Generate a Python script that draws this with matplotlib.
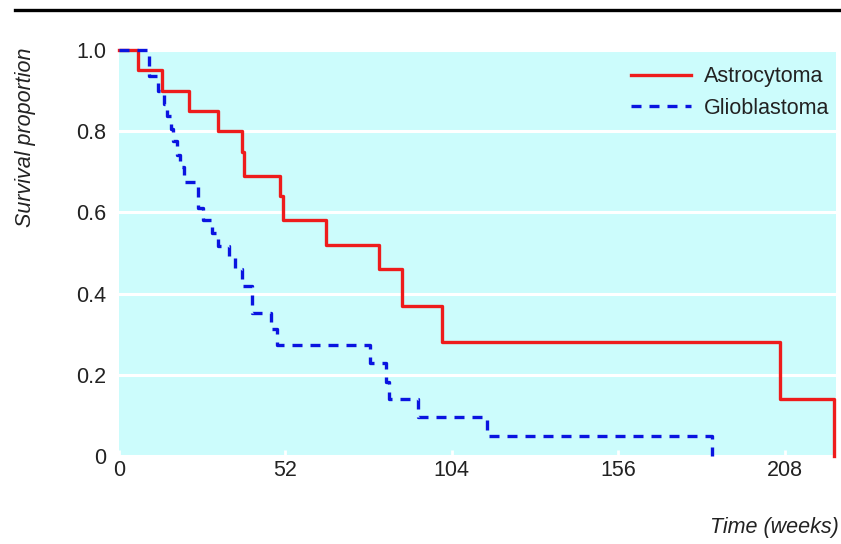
import matplotlib
matplotlib.use("Agg")
import matplotlib.pyplot as plt
from matplotlib.lines import Line2D

# Kaplan-Meier estimates, step changes (weeks, survival proportion)
astro_weeks = [0, 6.0, 13.4, 22.0, 30.8, 38.5, 39.0, 50.4, 51.1, 64.8, 81.1, 88.4, 100.8, 206.4, 223.4]
astro_surv = [1.0, 0.95, 0.90, 0.85, 0.80, 0.75, 0.69, 0.64, 0.58, 0.52, 0.46, 0.37, 0.28, 0.14, 0.0]

glio_weeks = [0, 9.5, 12.3, 14.2, 14.9, 16.3, 17.0, 18.2, 19.1, 20.3, 24.6, 26.3, 29.0, 31.0,
              34.5, 36.3, 38.3, 41.5, 47.5, 49.5, 78.4, 83.4, 84.4, 93.5, 114.9, 185.2]
glio_surv = [1.0, 0.936, 0.898, 0.867, 0.838, 0.806, 0.775, 0.742, 0.713, 0.676, 0.612, 0.581, 0.55, 0.517,
             0.491, 0.46, 0.418, 0.352, 0.312, 0.273, 0.23, 0.183, 0.14, 0.097, 0.05, 0.0]

x_ticks = [0, 52, 104, 156, 208]
y_ticks = [0, 0.2, 0.4, 0.6, 0.8, 1.0]
y_labels = ["0", "0.2", "0.4", "0.6", "0.8", "1.0"]

RED = "#ee1c1c"
BLUE = "#0a14e0"
PANEL = "#ccfcfc"
INK = "#222222"
FS = 15.5

plt.rcParams["font.family"] = ["Liberation Sans Narrow", "Liberation Sans", "DejaVu Sans"]


def main():
    fig = plt.figure(figsize=(8.41, 5.44), dpi=100)
    ax = fig.add_axes([0.1415, 0.162, 0.8525, 0.746])
    ax.set_facecolor(PANEL)

    ax.step(astro_weeks, astro_surv, where="post", color=RED, lw=2.4,
            clip_on=False, zorder=3)
    ax.step(glio_weeks, glio_surv, where="post", color=BLUE, lw=2.4,
            dashes=(3.0, 2.4), clip_on=False, zorder=4)

    ax.set_xlim(0, 224)
    ax.set_ylim(0, 1.0)
    ax.set_xticks(x_ticks)
    ax.set_yticks(y_ticks)
    ax.set_yticklabels(y_labels)
    for s in ax.spines.values():
        s.set_visible(False)
    ax.yaxis.grid(True, color="white", lw=2.2)
    ax.set_axisbelow(True)
    ax.tick_params(axis="x", direction="in", length=4, width=2, color="white",
                   labelsize=FS, labelcolor=INK, pad=3)
    ax.tick_params(axis="y", length=0, labelsize=FS, labelcolor=INK, pad=9)

    handles = [Line2D([], [], color=RED, lw=2.4),
               Line2D([], [], color=BLUE, lw=2.4, dashes=(3.0, 2.4))]
    leg = ax.legend(handles, ["Astrocytoma", "Glioblastoma"], loc="upper right",
                    bbox_to_anchor=(1.018, 1.008), frameon=False, fontsize=FS,
                    handlelength=2.8, handletextpad=0.6, labelspacing=0.5)
    for t in leg.get_texts():
        t.set_color(INK)

    fig.text(0.03, 0.748, "Survival proportion", rotation=90, style="italic",
             fontsize=FS, color=INK, ha="center", va="center")
    fig.text(0.997, 0.031, "Time (weeks)", style="italic", fontsize=FS,
             color=INK, ha="right", va="center")
    fig.add_artist(Line2D([0.018, 1.0], [0.982, 0.982], color="black", lw=2.4))

    fig.savefig("out.png", dpi=100)
    plt.close(fig)


if __name__ == "__main__":
    main()
